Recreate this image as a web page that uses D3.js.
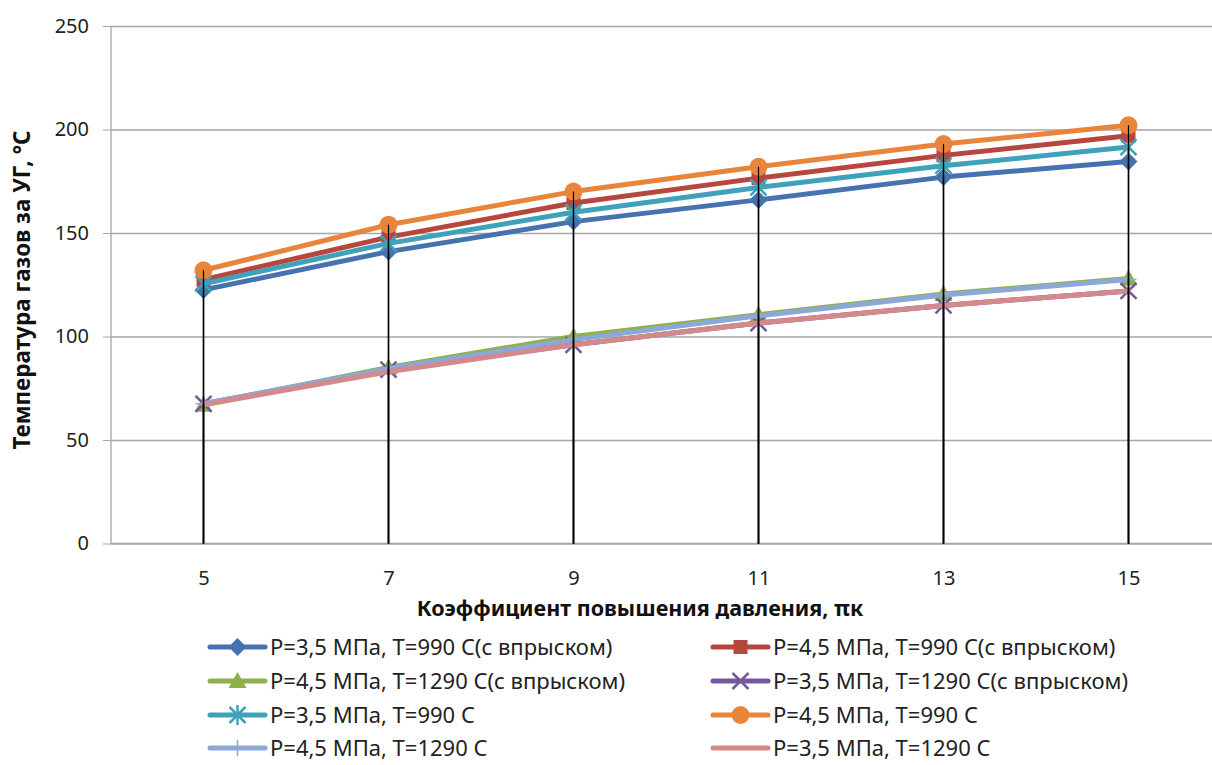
<!DOCTYPE html>
<html>
<head>
<meta charset="utf-8">
<script src="https://cdn.jsdelivr.net/npm/d3@7"></script>
<style>
  html, body { margin: 0; padding: 0; background: #fff; }
  svg { display: block; font-family: "Noto Sans", "Open Sans", sans-serif; }
</style>
</head>
<body>
<svg id="chart" width="1212" height="765"></svg>
<script>
// Compression ratio categories
const categories = ["5", "7", "9", "11", "13", "15"];

// Exhaust gas temperature behind the recovery boiler, °C
const s35_990_inj   = [122.5, 141, 155.5, 166, 177, 184.5];
const s45_990_inj   = [127.5, 148, 164.5, 176.5, 187.5, 197];
const s45_1290_inj  = [67, 85, 100, 110.5, 120.5, 128];
const s35_1290_inj  = [67.5, 84, 96, 106.5, 115, 122];
const s35_990       = [125.5, 145, 160, 172, 182.5, 191.5];
const s45_990       = [132, 154, 170, 182, 193, 202];
const s45_1290      = [67.5, 84.5, 98.5, 110, 120, 127.5];
const s35_1290      = [67, 83, 96, 106.5, 115, 122];

const seriesNames = [
  "P=3,5 МПа, T=990 C(с впрыском)",
  "P=4,5 МПа, T=990 C(с впрыском)",
  "P=4,5 МПа, T=1290 C(с впрыском)",
  "P=3,5 МПа, T=1290 C(с впрыском)",
  "P=3,5 МПа, T=990 C",
  "P=4,5 МПа, T=990 C",
  "P=4,5 МПа, T=1290 C",
  "P=3,5 МПа, T=1290 C"
];
const yTicks = [0, 50, 100, 150, 200, 250];

const seriesValues = [s35_990_inj, s45_990_inj, s45_1290_inj, s35_1290_inj,
                      s35_990, s45_990, s45_1290, s35_1290];
const colors = ["#4672B0", "#B7463F", "#8FB04A", "#7458A0",
                "#3FA2BA", "#E8853A", "#8CA8D6", "#D48A8A"];
const markers = ["diamond", "square", "triangle", "x", "asterisk", "circle", "plus", "none"];

const series = seriesNames.map((name, i) => ({
  name, color: colors[i], marker: markers[i],
  points: categories.map((c, j) => ({ c, v: seriesValues[i][j] }))
}));

const svg = d3.select("#chart");
const plot = { left: 111, right: 1221, top: 26, bottom: 543.5 };

const x = d3.scalePoint().domain(categories).range([plot.left, plot.right]).padding(0.5);
const y = d3.scaleLinear().domain([0, 250]).range([plot.bottom, plot.top]);

// Horizontal gridlines with outward ticks
const yAxis = svg.append("g")
  .attr("transform", `translate(${plot.left},0)`)
  .call(d3.axisLeft(y).tickValues(yTicks).tickSize(8).tickPadding(14)
          .tickFormat(d3.format("d")));
yAxis.select(".domain").remove();
yAxis.selectAll(".tick line").attr("stroke", "#A6A6A6").attr("x2", 0).attr("x1", -8);
yAxis.selectAll(".tick").append("line")
  .attr("x1", 0).attr("x2", plot.right - plot.left)
  .attr("stroke", "#A6A6A6").attr("stroke-width", 1.3);
yAxis.selectAll(".tick text")
  .attr("font-size", 20).attr("fill", "#222")
  .attr("font-family", "'Noto Sans', sans-serif");

// Vertical axis line
svg.append("line")
  .attr("x1", plot.left).attr("x2", plot.left)
  .attr("y1", plot.top).attr("y2", plot.bottom)
  .attr("stroke", "#A6A6A6").attr("stroke-width", 1.3);

// Category axis
const xAxis = svg.append("g")
  .attr("transform", `translate(0,${plot.bottom})`)
  .call(d3.axisBottom(x).tickSize(0).tickPadding(27));
xAxis.select(".domain").remove();
xAxis.selectAll(".tick text")
  .attr("font-size", 20).attr("fill", "#222")
  .attr("font-family", "'Noto Sans', sans-serif");
svg.append("line")
  .attr("x1", plot.left).attr("x2", plot.right)
  .attr("y1", plot.bottom).attr("y2", plot.bottom)
  .attr("stroke", "#A6A6A6").attr("stroke-width", 1.3);

// Marker drawing
function drawMarker(g, type, color) {
  switch (type) {
    case "diamond":
      g.append("path").attr("d", "M0,-9L9,0L0,9L-9,0Z").attr("fill", color);
      break;
    case "square":
      g.append("rect").attr("x", -7).attr("y", -7).attr("width", 14).attr("height", 14).attr("fill", color);
      break;
    case "triangle":
      g.append("path").attr("d", "M0,-9L9,7L-9,7Z").attr("fill", color);
      break;
    case "x":
      g.append("path").attr("d", "M-8,-8L8,8M-8,8L8,-8")
        .attr("stroke", color).attr("stroke-width", 2.5).attr("fill", "none");
      break;
    case "asterisk":
      g.append("path").attr("d", "M-8,-8L8,8M-8,8L8,-8M0,-10L0,10")
        .attr("stroke", color).attr("stroke-width", 2.5).attr("fill", "none");
      break;
    case "circle":
      g.append("circle").attr("r", 9).attr("fill", color);
      break;
    case "plus":
      g.append("path").attr("d", "M-8,0L8,0M0,-8L0,8")
        .attr("stroke", color).attr("stroke-width", 1.5).attr("fill", "none");
      break;
  }
}

const line = d3.line().x(d => x(d.c)).y(d => y(d.v));

// Series lines and markers, in series order
series.forEach(s => {
  const g = svg.append("g");
  g.append("path").datum(s.points)
    .attr("d", line).attr("fill", "none")
    .attr("stroke", s.color).attr("stroke-width", 5)
    .attr("stroke-linejoin", "round").attr("stroke-linecap", "round");
  g.selectAll("g.mk").data(s.points).join("g")
    .attr("class", "mk")
    .attr("transform", d => `translate(${x(d.c)},${y(d.v)})`)
    .each(function () { drawMarker(d3.select(this), s.marker, s.color); });
});

// Drop lines from each point down to the category axis
const dropG = svg.append("g");
series.forEach(s => {
  dropG.selectAll(null).data(s.points).join("line")
    .attr("x1", d => x(d.c)).attr("x2", d => x(d.c))
    .attr("y1", d => y(d.v)).attr("y2", plot.bottom)
    .attr("stroke", "#000").attr("stroke-width", 1.2);
});

// Axis titles
svg.append("text")
  .attr("x", 640).attr("y", 616)
  .attr("text-anchor", "middle")
  .attr("font-size", 21.5).attr("font-weight", "bold").attr("fill", "#111")
  .text("Коэффициент повышения давления, πк");

svg.append("text")
  .attr("transform", "translate(30,290) rotate(-90)")
  .attr("text-anchor", "middle")
  .attr("font-size", 22.5).attr("font-weight", "bold").attr("fill", "#111")
  .text("Температура газов за УГ, °С");

// Legend in two columns
const legendCols = [210, 713];
const legendRows = [647, 681, 715, 748];
series.forEach((s, i) => {
  const lx = legendCols[i % 2];
  const ly = legendRows[Math.floor(i / 2)];
  const g = svg.append("g").attr("transform", `translate(${lx},${ly})`);
  g.append("line").attr("x1", 0).attr("x2", 55).attr("y1", 0).attr("y2", 0)
    .attr("stroke", s.color).attr("stroke-width", 5).attr("stroke-linecap", "round");
  const mg = g.append("g").attr("transform", "translate(27.5,0)");
  drawMarker(mg, s.marker, s.color);
  g.append("text").attr("x", 60).attr("y", 0).attr("dy", "0.36em")
    .attr("font-size", 22).attr("fill", "#222")
    .text(s.name);
});
</script>
</body>
</html>
